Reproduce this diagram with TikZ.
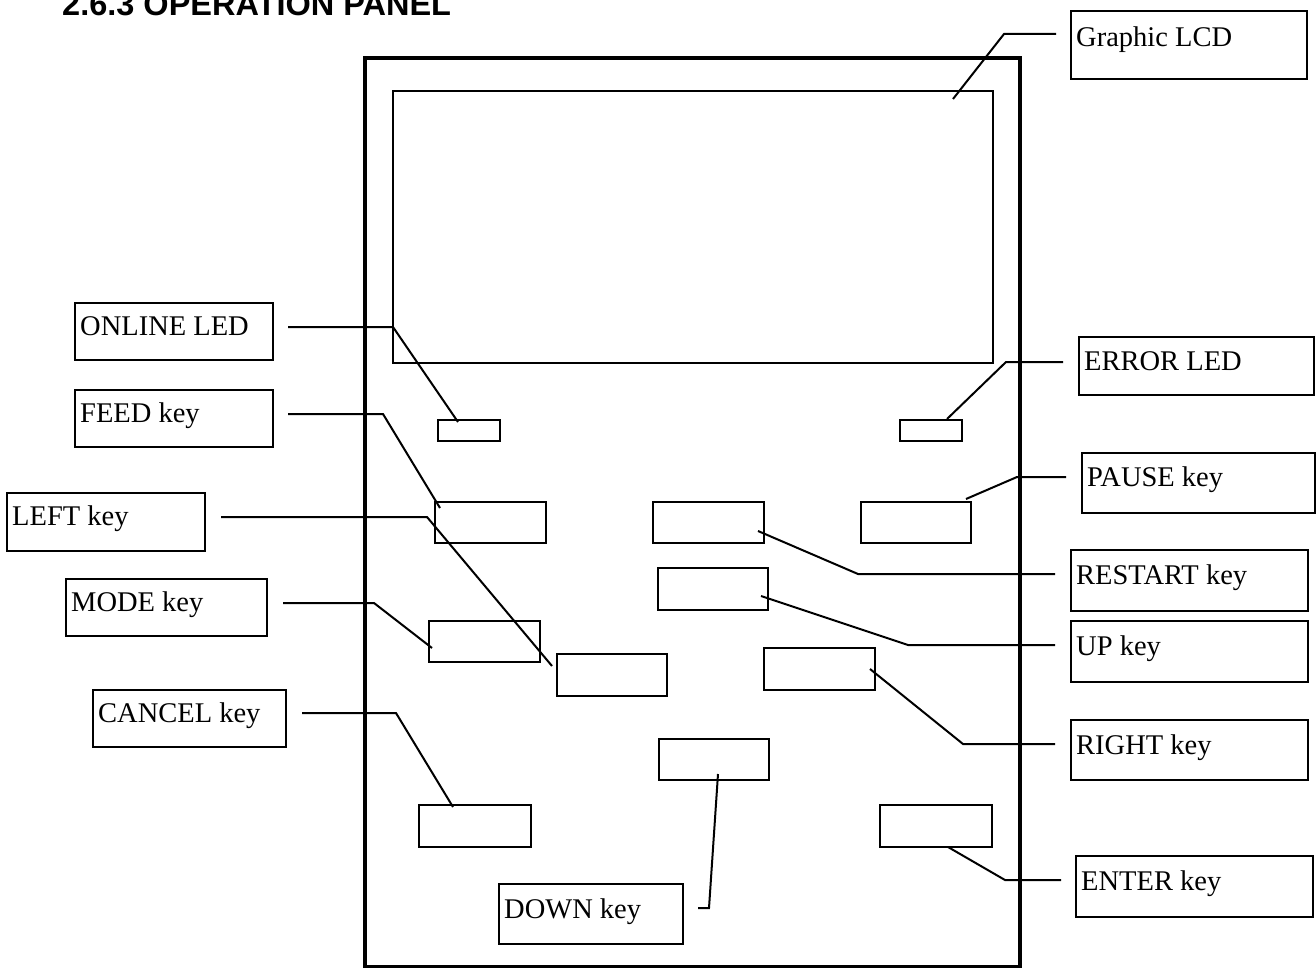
\documentclass[tikz,border=0pt]{standalone}
\usepackage{fontspec}
\setmainfont{Liberation Serif}
\newfontfamily\titlefont{Liberation Sans}
\usetikzlibrary{fit}
\tikzset{
  frame/.style={draw, line width=4pt},
  lcdbox/.style={draw, line width=2.2pt},
  keyb/.style={draw, line width=2.5pt, inner sep=0pt},
  lblbox/.style={draw, line width=1.8pt, inner sep=0pt},
  lbltxt/.style={anchor=base west, inner sep=0pt, font=\fontsize{28.5}{34}\selectfont},
  conn/.style={draw, line width=2pt},
}
\begin{document}
\begin{tikzpicture}[x=1pt,y=-1pt]
\useasboundingbox (0,0) rectangle (1316,968);
% title
\node[anchor=base west, inner sep=0pt, font=\titlefont\bfseries\fontsize{32.5}{38}\selectfont] (title) at (62,16) {2.6.3 OPERATION PANEL};
% panel
\node[frame, inner sep=0pt, fit={(365,58) (1020,967)}] (panel) {};
\node[lcdbox, inner sep=0pt, fit={(393,91) (993,363)}] (lcd) {};
% LEDs and keys
\node[keyb, fit={(438,420) (500,441)}] (onled) {};
\node[keyb, fit={(900,420) (962,441)}] (errled) {};
\node[keyb, fit={(435,502) (546,543)}] (feed) {};
\node[keyb, fit={(653,502) (764,543)}] (restart) {};
\node[keyb, fit={(861,502) (971,543)}] (pause) {};
\node[keyb, fit={(658,568) (768,610)}] (up) {};
\node[keyb, fit={(429,621) (540,662)}] (mode) {};
\node[keyb, fit={(557,654) (667,696)}] (left) {};
\node[keyb, fit={(764,648) (875,690)}] (right) {};
\node[keyb, fit={(659,739) (769,780)}] (down) {};
\node[keyb, fit={(419,805) (531,847)}] (cancel) {};
\node[keyb, fit={(880,805) (992,847)}] (enter) {};
% label boxes
\node[lblbox, fit={(1071,11) (1307,79)}] (Llcd) {};
\node[lbltxt] (Tlcd) at (1076,47) {Graphic LCD};
\node[lblbox, fit={(75,303) (273,360)}] (Lonled) {};
\node[lbltxt] (Tonled) at (80,335) {ONLINE LED};
\node[lblbox, fit={(75,390) (273,447)}] (Lfeed) {};
\node[lbltxt] (Tfeed) at (80,422) {FEED key};
\node[lblbox, fit={(7,493) (205,551)}] (Lleft) {};
\node[lbltxt] (Tleft) at (12,525) {LEFT key};
\node[lblbox, fit={(66,579) (267,636)}] (Lmode) {};
\node[lbltxt] (Tmode) at (71,611) {MODE key};
\node[lblbox, fit={(93,690) (286,747)}] (Lcancel) {};
\node[lbltxt] (Tcancel) at (98,722) {CANCEL key};
\node[lblbox, fit={(1079,337) (1314,395)}] (Lerrled) {};
\node[lbltxt] (Terrled) at (1084,370) {ERROR LED};
\node[lblbox, fit={(1082,453) (1315,513)}] (Lpause) {};
\node[lbltxt] (Tpause) at (1087,486) {PAUSE key};
\node[lblbox, fit={(1071,550) (1308,611)}] (Lrestart) {};
\node[lbltxt] (Trestart) at (1076,584) {RESTART key};
\node[lblbox, fit={(1071,621) (1308,682)}] (Lup) {};
\node[lbltxt] (Tup) at (1076,655) {UP key};
\node[lblbox, fit={(1071,720) (1308,780)}] (Lright) {};
\node[lbltxt] (Tright) at (1076,754) {RIGHT key};
\node[lblbox, fit={(1076,856) (1313,917)}] (Lenter) {};
\node[lbltxt] (Tenter) at (1081,890) {ENTER key};
\node[lblbox, fit={(499,884) (683,944)}] (Ldown) {};
\node[lbltxt] (Tdown) at (504,918) {DOWN key};
% connector points
\coordinate (cLcdA) at (1056,34);   \coordinate (cLcdB) at (1004,34);   \coordinate (cLcdP) at (953,99);
\coordinate (cOnA) at (288,327);    \coordinate (cOnB) at (393,327);    \coordinate (cOnP) at (458,422);
\coordinate (cFeedA) at (288,414);  \coordinate (cFeedB) at (383,414);  \coordinate (cFeedP) at (440,508);
\coordinate (cLeftA) at (221,517);  \coordinate (cLeftB) at (427,517);  \coordinate (cLeftP) at (552,666);
\coordinate (cModeA) at (283,603);  \coordinate (cModeB) at (374,603);  \coordinate (cModeP) at (432,648);
\coordinate (cCanA) at (302,713);   \coordinate (cCanB) at (396,713);   \coordinate (cCanP) at (453,807);
\coordinate (cErrA) at (1063,362);  \coordinate (cErrB) at (1006,362);  \coordinate (cErrP) at (947,419);
\coordinate (cPauA) at (1066,477);  \coordinate (cPauB) at (1017,477);  \coordinate (cPauP) at (966,499);
\coordinate (cResA) at (1055,574);  \coordinate (cResB) at (858,574);   \coordinate (cResP) at (758,531);
\coordinate (cUpA) at (1055,645);   \coordinate (cUpB) at (908,645);    \coordinate (cUpP) at (761,596);
\coordinate (cRiA) at (1055,744);   \coordinate (cRiB) at (963,744);    \coordinate (cRiP) at (870,669);
\coordinate (cEnA) at (1061,880);   \coordinate (cEnB) at (1005,880);   \coordinate (cEnP) at (948,847);
\coordinate (cDnA) at (698,908);    \coordinate (cDnB) at (709,908);    \coordinate (cDnP) at (718,774);
% connectors
\draw[conn] (cLcdA) -- (cLcdB) -- (cLcdP);
\draw[conn] (cOnA) -- (cOnB) -- (cOnP);
\draw[conn] (cFeedA) -- (cFeedB) -- (cFeedP);
\draw[conn] (cLeftA) -- (cLeftB) -- (cLeftP);
\draw[conn] (cModeA) -- (cModeB) -- (cModeP);
\draw[conn] (cCanA) -- (cCanB) -- (cCanP);
\draw[conn] (cErrA) -- (cErrB) -- (cErrP);
\draw[conn] (cPauA) -- (cPauB) -- (cPauP);
\draw[conn] (cResA) -- (cResB) -- (cResP);
\draw[conn] (cUpA) -- (cUpB) -- (cUpP);
\draw[conn] (cRiA) -- (cRiB) -- (cRiP);
\draw[conn] (cEnA) -- (cEnB) -- (cEnP);
\draw[conn] (cDnA) -- (cDnB) -- (cDnP);
\end{tikzpicture}
\end{document}
